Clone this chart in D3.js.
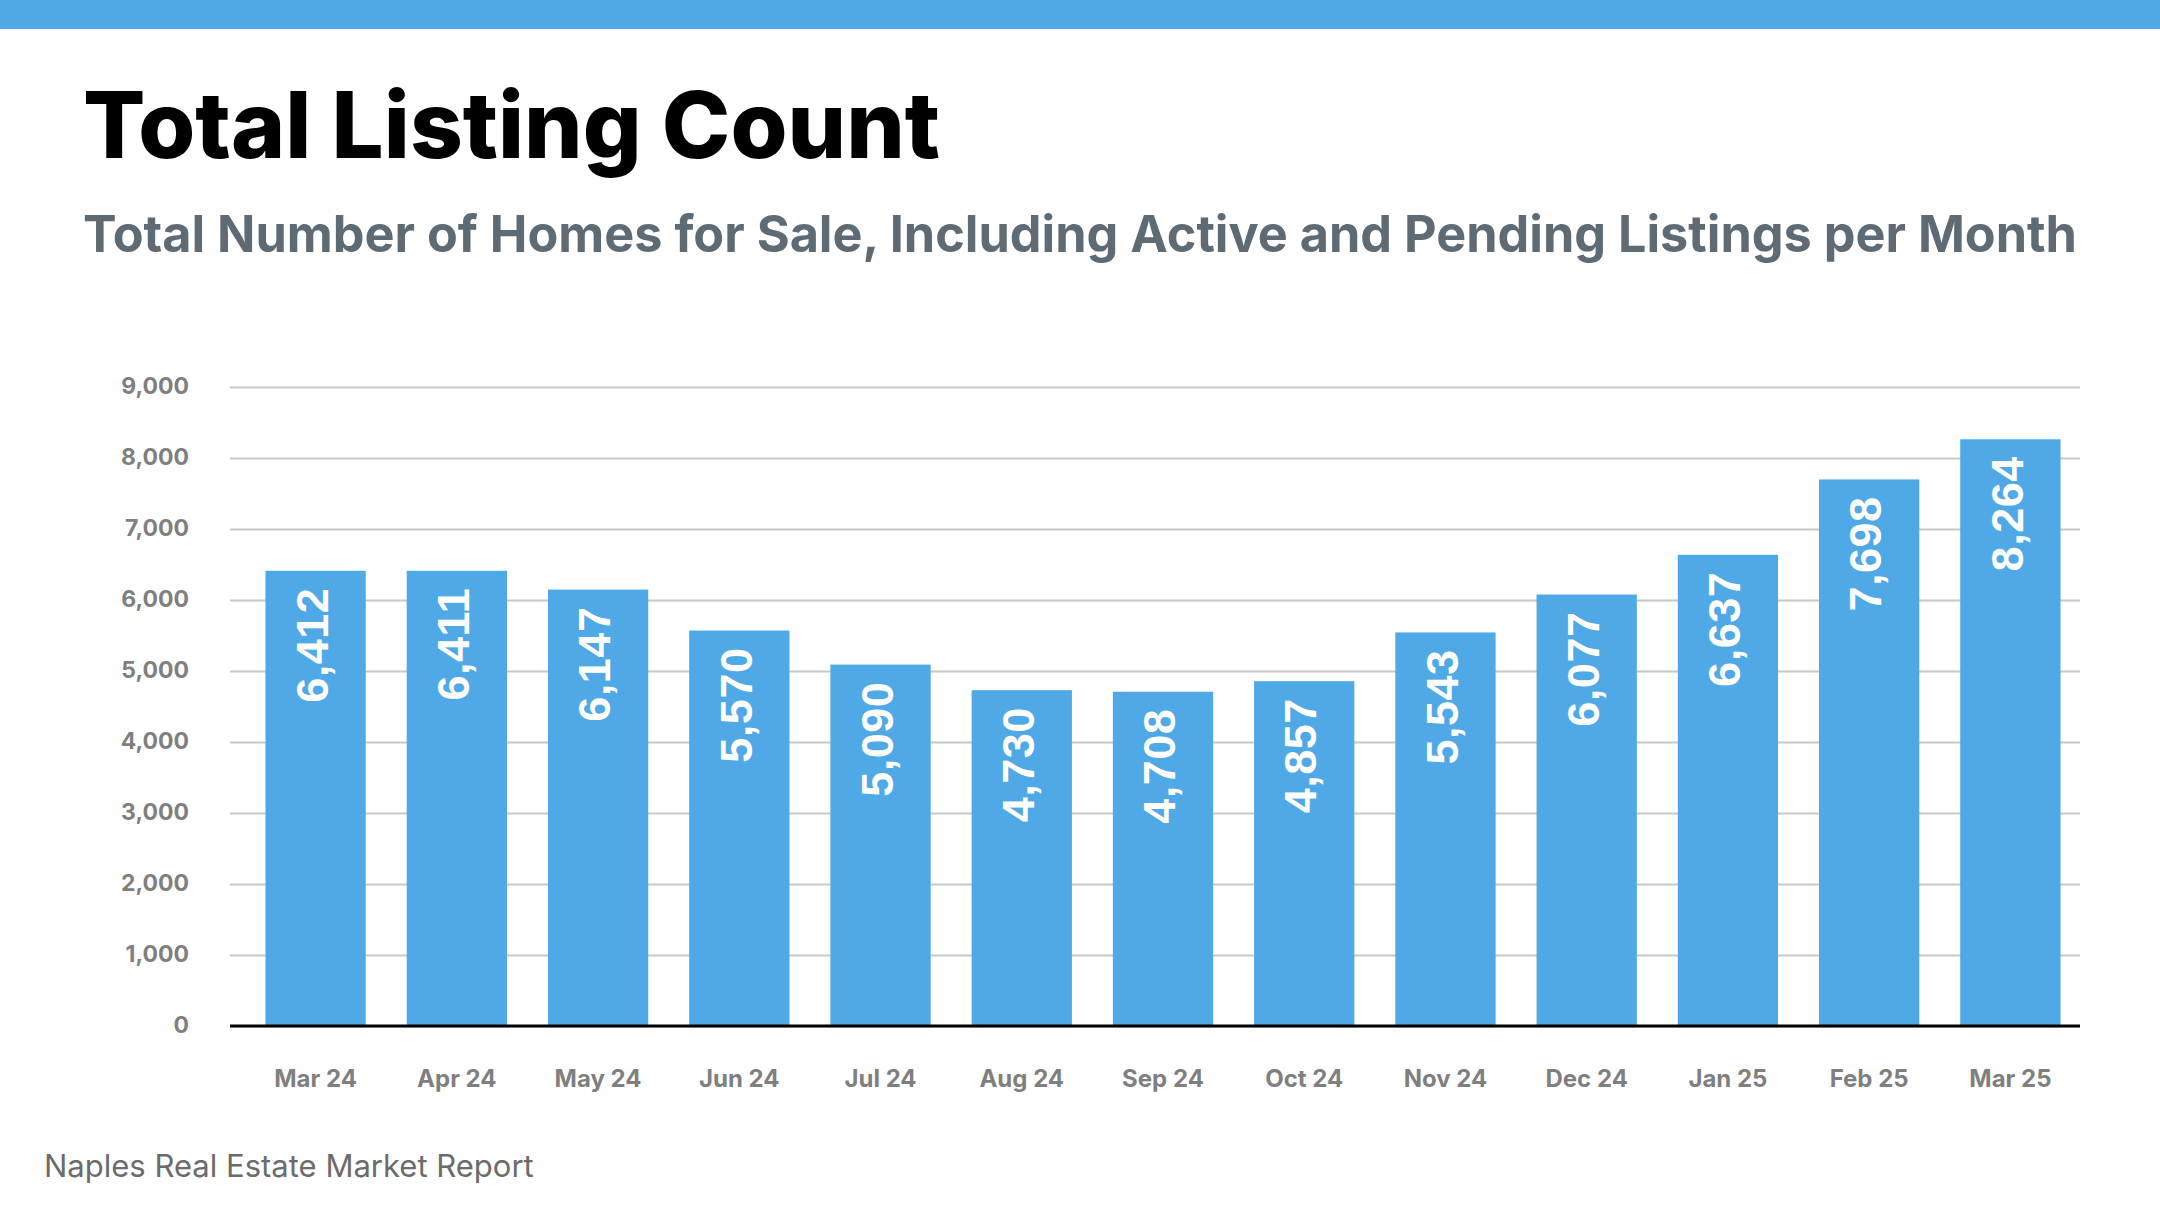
<!DOCTYPE html>
<html>
<head>
<meta charset="utf-8">
<script src="https://cdn.jsdelivr.net/npm/d3@7"></script>
<style>
  html, body { margin: 0; padding: 0; background: #fff; }
  svg { display: block; }
</style>
</head>
<body>
<div id="chart"></div>
<script>
// data
var months = ["Mar 24", "Apr 24", "May 24", "Jun 24", "Jul 24", "Aug 24", "Sep 24",
              "Oct 24", "Nov 24", "Dec 24", "Jan 25", "Feb 25", "Mar 25"];
var listings = [6412, 6411, 6147, 5570, 5090, 4730, 4708, 4857, 5543, 6077, 6637, 7698, 8264];
var yTicks = [0, 1000, 2000, 3000, 4000, 5000, 6000, 7000, 8000, 9000];

var W = 2160, H = 1215;
var blue = "#4fa9e6";

var svg = d3.select("#chart").append("svg")
  .attr("width", W)
  .attr("height", H);

svg.append("rect")
  .attr("x", 0).attr("y", 0)
  .attr("width", W).attr("height", 29)
  .attr("fill", blue);

// shrink/grow font size so text fills the width seen in the reference
function fitWidth(sel, target) {
  var node = sel.node();
  var size = parseFloat(sel.attr("font-size"));
  var len = node.getComputedTextLength();
  sel.attr("font-size", (size * target / len).toFixed(2));
}

var title = svg.append("text")
  .attr("x", 83).attr("y", 158)
  .attr("font-family", "Inter, 'Noto Sans', sans-serif")
  .attr("font-weight", 800)
  .attr("font-size", 88)
  .attr("fill", "#000")
  .text("Total Listing Count");
fitWidth(title, 857);

var subtitle = svg.append("text")
  .attr("x", 83).attr("y", 252)
  .attr("font-family", "Inter, 'Noto Sans', sans-serif")
  .attr("font-weight", 700)
  .attr("font-size", 50)
  .attr("fill", "#5f6b74")
  .text("Total Number of Homes for Sale, Including Active and Pending Listings per Month");
fitWidth(subtitle, 1994);

var footer = svg.append("text")
  .attr("x", 44).attr("y", 1177)
  .attr("font-family", "Inter, 'Noto Sans', sans-serif")
  .attr("font-weight", 400)
  .attr("font-size", 30)
  .attr("fill", "#6b6b6b")
  .text("Naples Real Estate Market Report");
fitWidth(footer, 490);

// plot area
var plotLeft = 230, plotRight = 2080, plotTop = 387, plotBottom = 1026;

var x = d3.scaleBand()
  .domain(months)
  .range([245, 2081])
  .paddingInner(0.29)
  .paddingOuter(0.145);

var y = d3.scaleLinear()
  .domain([0, 9000])
  .range([plotBottom, plotTop]);

// gridlines
svg.append("g")
  .attr("class", "grid")
  .attr("transform", "translate(" + plotLeft + ",0)")
  .call(d3.axisLeft(y).tickValues(yTicks).tickSize(-(plotRight - plotLeft)).tickFormat(""))
  .call(function(g) {
    g.select(".domain").remove();
    g.selectAll("line").attr("stroke", "#c8c8c8").attr("stroke-width", 2);
  });

// y labels
svg.append("g")
  .attr("class", "y-axis")
  .attr("transform", "translate(" + plotLeft + ",0)")
  .call(d3.axisLeft(y).tickValues(yTicks).tickSize(0).tickPadding(41).tickFormat(d3.format(",")))
  .call(function(g) {
    g.select(".domain").remove();
    g.selectAll("text")
      .attr("font-family", "Inter, 'Noto Sans', sans-serif")
      .attr("font-weight", 700)
      .attr("font-size", 23)
      .attr("fill", "#7f7f7f")
      .attr("dy", "0.28em");
  });

// bars
svg.selectAll(".bar")
  .data(listings)
  .enter().append("rect")
  .attr("class", "bar")
  .attr("x", function(d, i) { return x(months[i]); })
  .attr("y", function(d) { return y(d); })
  .attr("width", x.bandwidth())
  .attr("height", function(d) { return plotBottom - y(d); })
  .attr("fill", blue);

// value labels inside the bars, rotated
svg.selectAll(".bar-label")
  .data(listings)
  .enter().append("text")
  .attr("class", "bar-label")
  .attr("transform", function(d, i) {
    var cx = x(months[i]) + x.bandwidth() / 2 - 4;
    return "translate(" + cx + "," + (y(d) + 17) + ") rotate(-90)";
  })
  .attr("text-anchor", "end")
  .attr("dy", "0.36em")
  .attr("font-family", "'Liberation Sans', Arial, sans-serif")
  .attr("font-weight", 700)
  .attr("font-size", 45)
  .attr("letter-spacing", 0.5)
  .attr("fill", "#fff")
  .text(function(d) { return d3.format(",")(d); });

// x axis
svg.append("g")
  .attr("class", "x-axis")
  .attr("transform", "translate(0," + plotBottom + ")")
  .call(d3.axisBottom(x).tickSize(0))
  .call(function(g) {
    g.select(".domain").remove();
    g.selectAll("text")
      .attr("font-family", "Inter, 'Noto Sans', sans-serif")
      .attr("font-weight", 700)
      .attr("font-size", 24)
      .attr("fill", "#7f7f7f")
      .attr("dy", null)
      .attr("y", 61);
  });

// black baseline
svg.append("line")
  .attr("x1", plotLeft).attr("x2", plotRight)
  .attr("y1", plotBottom).attr("y2", plotBottom)
  .attr("stroke", "#000")
  .attr("stroke-width", 3);
</script>
</body>
</html>
